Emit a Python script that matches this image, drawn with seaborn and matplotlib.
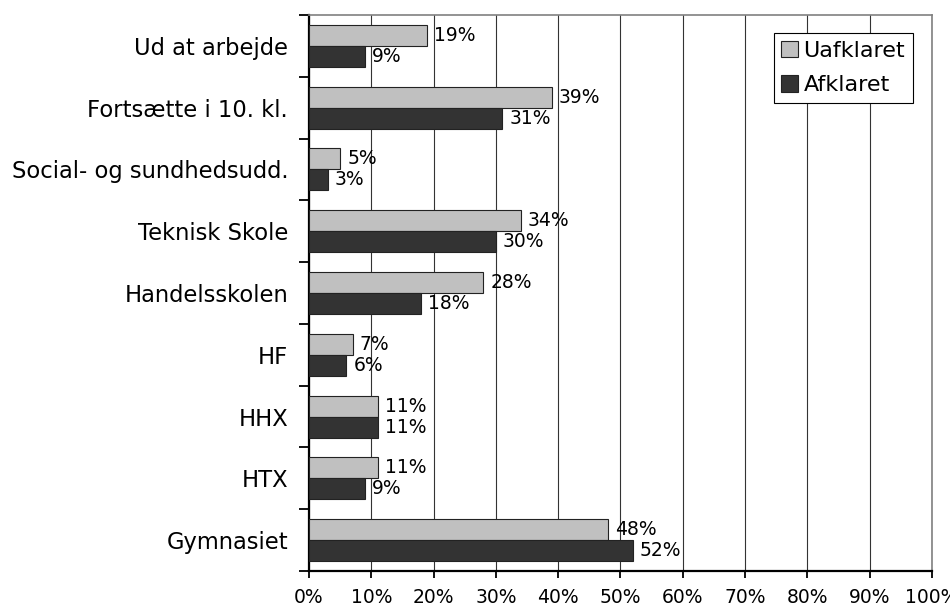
import pandas as pd
import matplotlib.pyplot as plt
import seaborn as sns
from matplotlib.ticker import FixedLocator, PercentFormatter

# values
categories = ["Ud at arbejde", "Fortsætte i 10. kl.", "Social- og sundhedsudd.",
              "Teknisk Skole", "Handelsskolen", "HF", "HHX", "HTX", "Gymnasiet"]
uafklaret = [19, 39, 5, 34, 28, 7, 11, 11, 48]
afklaret = [9, 31, 3, 30, 18, 6, 11, 9, 52]
series = ["Uafklaret", "Afklaret"]
colors = ["#C0C0C0", "#333333"]

df = pd.DataFrame({
    "Kategori": categories * 2,
    "Serie": [series[0]] * len(categories) + [series[1]] * len(categories),
    "Andel": uafklaret + afklaret,
})

sns.set_style("white")
plt.rcParams["font.family"] = ["DejaVu Sans"]
plt.rcParams.update({"text.color": "black", "xtick.color": "black",
                     "ytick.color": "black", "axes.labelcolor": "black"})

fig, ax = plt.subplots(figsize=(9.5, 6.06), dpi=100)
fig.subplots_adjust(left=0.3253, right=0.981, top=0.9752, bottom=0.0578)

sns.barplot(data=df, y="Kategori", x="Andel", hue="Serie", order=categories,
            hue_order=series, palette=colors, orient="h", width=0.68,
            edgecolor="#222222", linewidth=0.8, saturation=1, ax=ax, zorder=3)

for cont in ax.containers:
    ax.bar_label(cont, labels=[f"{v:.0f}%" for v in cont.datavalues],
                 padding=5, fontsize=13.5, zorder=4)

ax.set_xlim(0, 100)
ax.set_ylim(len(categories) - 0.5, -0.5)
ax.xaxis.set_major_locator(FixedLocator(range(0, 101, 10)))
ax.xaxis.set_major_formatter(PercentFormatter(decimals=0))
ax.grid(axis="x", color="#333333", linewidth=0.8, zorder=0)
ax.set_xlabel("")
ax.set_ylabel("")

ax.yaxis.set_minor_locator(FixedLocator([i - 0.5 for i in range(len(categories) + 1)]))
ax.tick_params(axis="y", which="major", length=0, pad=15, labelsize=16.3)
ax.tick_params(axis="y", which="minor", left=True, length=7, width=1.3, color="black")
ax.tick_params(axis="x", bottom=True, length=5, width=1.3, color="black", pad=7, labelsize=13.5)

for side in ["left", "bottom"]:
    ax.spines[side].set_color("black")
    ax.spines[side].set_linewidth(1.6)
for side in ["top", "right"]:
    ax.spines[side].set_color("#808080")
    ax.spines[side].set_linewidth(1.2)

leg = ax.legend(loc="upper right", bbox_to_anchor=(0.9695, 0.9676), borderaxespad=0,
                fontsize=16, handlelength=0.75, handleheight=0.75, handletextpad=0.25,
                labelspacing=0.65, fancybox=False, framealpha=1, edgecolor="black",
                borderpad=0.35)
leg.get_frame().set_linewidth(0.8)

fig.savefig("out.png", dpi=100)
